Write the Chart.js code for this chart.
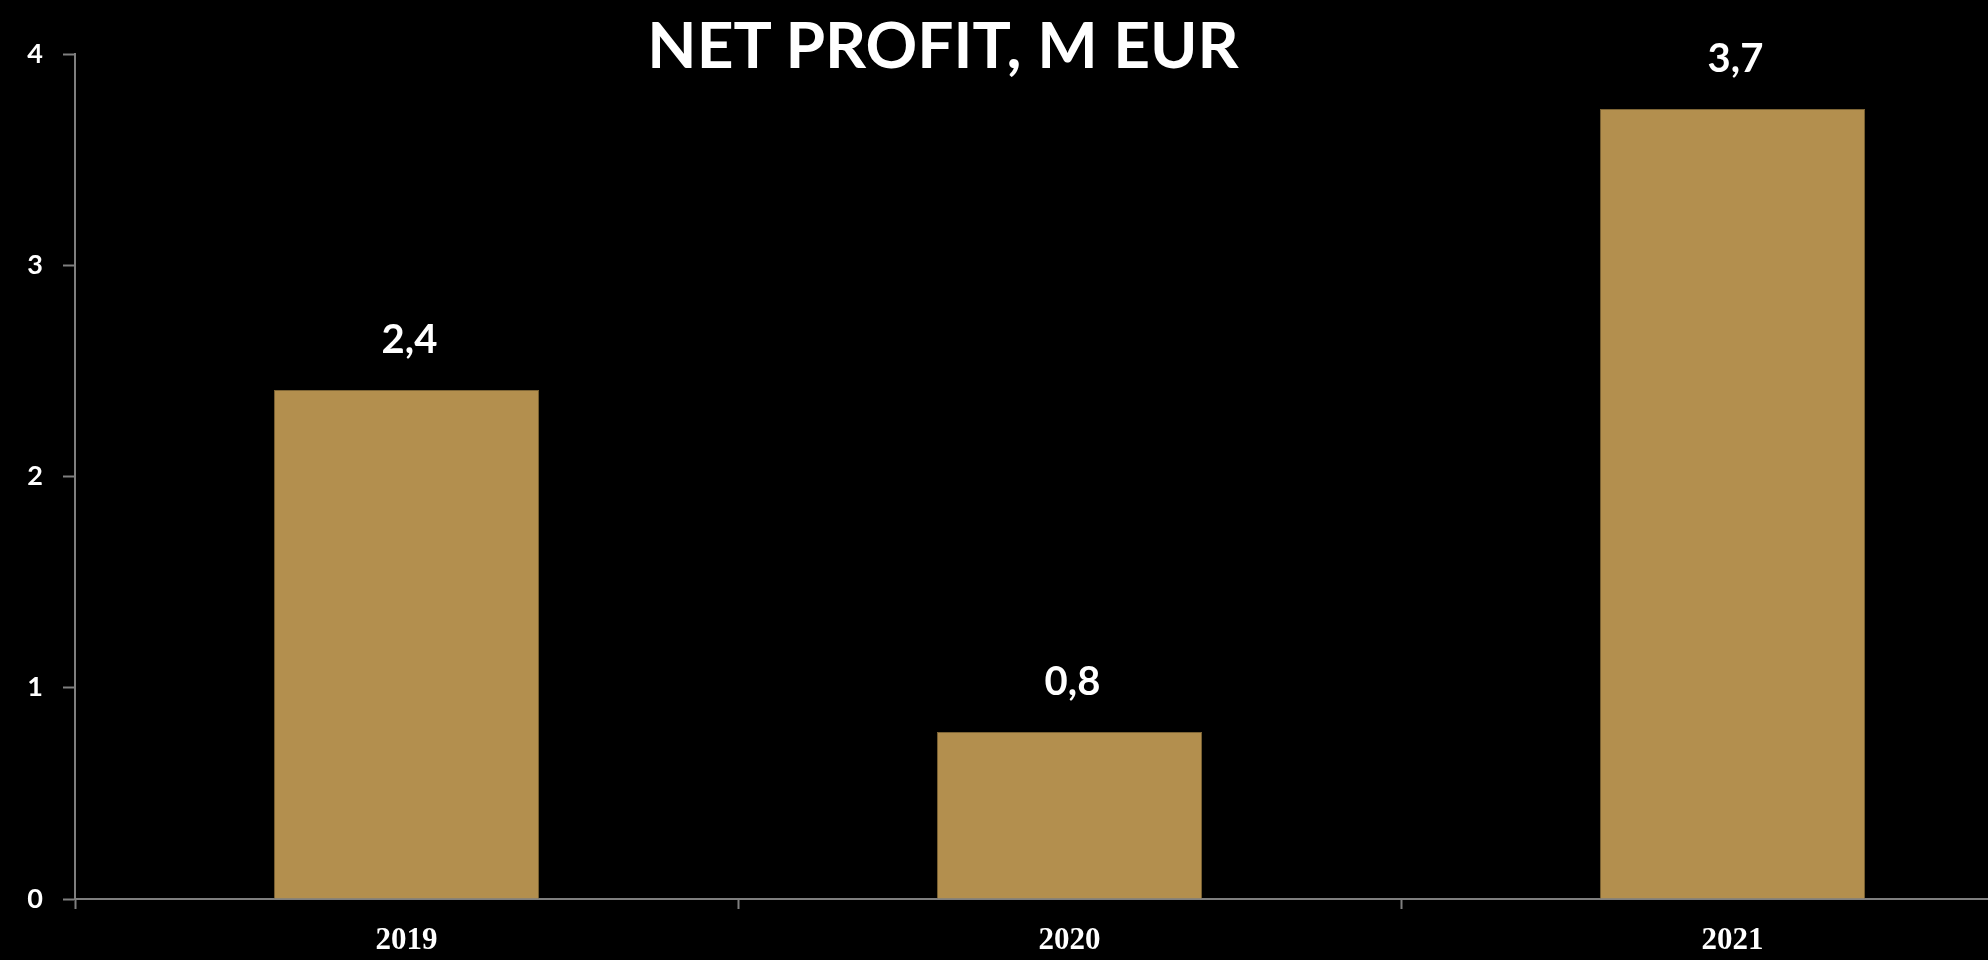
<!DOCTYPE html>
<html>
<head>
<meta charset="utf-8">
<script src="https://cdn.jsdelivr.net/npm/chart.js@4/dist/chart.umd.min.js"></script>
<style>
  html, body { margin: 0; padding: 0; background: #000; overflow: hidden; width: 1988px; height: 960px; }
  #wrap { position: absolute; left: 0; top: 0; width: 2064px; height: 960px; }
  #title { position: absolute; left: 0; width: 1886px; top: 12px; text-align: center;
    font-family: Lato, "Open Sans", sans-serif; font-weight: bold; font-size: 64px; line-height: 64px;
    color: #fff; margin: 0; z-index: 2; pointer-events: none; }
</style>
</head>
<body>
<div id="wrap">
  <canvas id="c" width="2064" height="960"></canvas>
</div>
<div id="title">NET PROFIT, M EUR</div>
<script>
const categories = ['2019', '2020', '2021'];
const netProfit = [2.41, 0.79, 3.74];
const valueLabels = ['2,4', '0,8', '3,7'];
const yMin = 0, yMax = 4, yStep = 1;

const axisGray = '#7f7f7f';

const valueLabelPlugin = {
  id: 'valueLabels',
  afterDatasetsDraw(chart) {
    const ctx = chart.ctx;
    const meta = chart.getDatasetMeta(0);
    ctx.save();
    ctx.fillStyle = '#ffffff';
    ctx.font = 'bold 40px Lato, "Open Sans", sans-serif';
    ctx.textAlign = 'center';
    ctx.textBaseline = 'alphabetic';
    meta.data.forEach((bar, i) => {
      ctx.fillText(valueLabels[i], bar.x + 3, bar.y - 37);
    });
    ctx.restore();
  }
};

new Chart(document.getElementById('c'), {
  type: 'bar',
  data: {
    labels: categories,
    datasets: [{
      data: netProfit,
      backgroundColor: '#b38f4e',
      borderColor: '#7d6435',
      borderWidth: 1,
      barPercentage: 1,
      categoryPercentage: 0.4
    }]
  },
  plugins: [valueLabelPlugin],
  options: {
    responsive: false,
    animation: false,
    devicePixelRatio: 1,
    layout: { padding: { top: 54, left: 0, right: 0, bottom: 0 } },
    plugins: { legend: { display: false }, title: { display: false }, tooltip: { enabled: false } },
    scales: {
      x: {
        offset: true,
        grid: { display: true, drawOnChartArea: false, drawTicks: true, tickLength: 10, tickColor: axisGray, tickWidth: 2, offset: true },
        border: { display: true, color: axisGray, width: 2 },
        ticks: { color: '#ffffff', padding: 13, font: { family: '"Liberation Serif", serif', weight: 'bold', size: 31 } },
        afterFit(scale) { scale.height = 61; }
      },
      y: {
        min: yMin, max: yMax,
        grid: { display: true, drawOnChartArea: false, drawTicks: true, tickLength: 12, tickColor: axisGray, tickWidth: 2 },
        border: { display: true, color: axisGray, width: 2 },
        ticks: { stepSize: yStep, color: '#ffffff', padding: 20, font: { family: 'Lato, sans-serif', weight: 'bold', size: 27 } },
        afterFit(scale) { scale.width = 75; }
      }
    }
  }
});
</script>
</body>
</html>
